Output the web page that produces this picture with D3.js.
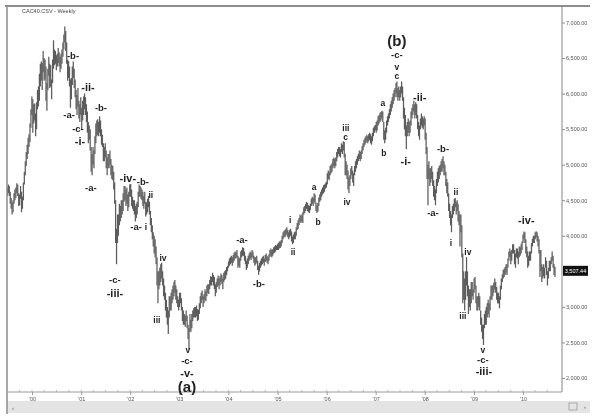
<!DOCTYPE html>
<html><head><meta charset="utf-8">
<script src="https://cdn.jsdelivr.net/npm/d3@7"></script>
<style>
html,body{margin:0;padding:0;background:#fff;}
svg{display:block;font-family:"Liberation Sans",Arial,sans-serif;filter:grayscale(100%);}
</style></head>
<body><svg id="c" width="602" height="416"></svg>
<script>
// ---------- DATA: weekly [low, high] bars, CAC 40 ----------
const yearStarts = ["1999-07-02","2000-01-07","2001-01-05","2002-01-04","2003-01-03","2004-01-02","2005-01-07","2006-01-06","2007-01-05","2008-01-04","2009-01-02","2010-01-01"];
const w1999 = [[4560,4680],[4600,4720],[4560,4700],[4450,4620],[4380,4530],[4300,4470],[4330,4500],[4450,4600],[4500,4650],[4530,4680],[4600,4740],[4560,4720],[4420,4600],[4430,4580],[4520,4700],[4330,4620],[4380,4550],[4500,4750],[4720,4900],[4850,5050],[4980,5180],[5080,5280],[5150,5380],[5250,5430],[5320,5580],[5520,5780],[5700,5960]];
const w2000 = [[5450,5920],[5580,5850],[5620,5860],[5400,5720],[5500,5880],[5780,6050],[5820,6100],[5900,6280],[6100,6420],[6180,6450],[6050,6430],[6300,6600],[6180,6500],[6200,6480],[5900,6380],[5760,6150],[6050,6350],[6250,6520],[6080,6420],[6100,6400],[5920,6200],[6150,6480],[6350,6750],[6400,6620],[6420,6600],[6330,6540],[6380,6560],[6430,6640],[6380,6580],[6300,6520],[6350,6560],[6420,6620],[6520,6720],[6620,6830],[6720,6945],[6600,6880],[6420,6720],[6180,6480],[6220,6460],[6100,6380],[5800,6200],[5920,6220],[6120,6380],[6220,6450],[6080,6350],[5950,6200],[5780,6050],[5700,5980],[5820,6080],[5650,5900],[5600,5850],[5700,5950]];
const w2001 = [[5500,5800],[5620,5900],[5700,5960],[5780,6000],[5700,5950],[5600,5850],[5450,5750],[5300,5600],[5350,5550],[5200,5500],[4900,5250],[4850,5150],[5000,5250],[4950,5200],[5150,5400],[5300,5580],[5400,5620],[5420,5640],[5400,5600],[5450,5680],[5400,5620],[5280,5500],[5250,5420],[5050,5300],[5050,5250],[5100,5300],[4950,5200],[4850,5100],[4950,5150],[4950,5150],[5000,5200],[4850,5080],[4800,5000],[4780,4980],[4650,4900],[4450,4750],[3900,4500],[3600,4100],[3900,4300],[4000,4300],[4150,4450],[4200,4420],[4250,4500],[4300,4500],[4350,4600],[4480,4700],[4500,4700],[4420,4650],[4450,4680],[4350,4580],[4400,4620],[4550,4720]];
const w2002 = [[4550,4730],[4420,4650],[4380,4550],[4350,4500],[4300,4500],[4200,4420],[4250,4450],[4300,4480],[4400,4620],[4550,4720],[4550,4700],[4520,4680],[4500,4650],[4420,4620],[4380,4560],[4450,4620],[4270,4480],[4300,4470],[4330,4520],[4400,4560],[4300,4480],[4150,4350],[4050,4250],[3950,4150],[3850,4050],[3750,4000],[3700,3950],[3600,3850],[3300,3700],[3050,3500],[3250,3500],[3300,3550],[3350,3600],[3400,3620],[3300,3500],[3150,3400],[3100,3300],[2950,3200],[2850,3100],[2750,3000],[2620,2950],[2850,3150],[2950,3150],[2950,3200],[3050,3250],[3100,3300],[3150,3350],[3200,3380],[3100,3300],[3050,3250],[3000,3150],[2950,3100]];
const w2003 = [[3000,3200],[3050,3200],[2950,3120],[2800,3000],[2750,2950],[2750,2900],[2720,2880],[2800,2950],[2700,2880],[2550,2750],[2400,2700],[2650,2900],[2650,2820],[2700,2900],[2800,2950],[2850,2980],[2850,3000],[2850,3000],[2870,3020],[2800,2970],[2820,2960],[2900,3050],[2980,3150],[3050,3200],[3100,3230],[3000,3150],[3050,3180],[3100,3250],[3080,3220],[3150,3300],[3200,3320],[3180,3320],[3250,3380],[3300,3430],[3300,3420],[3350,3480],[3300,3450],[3250,3420],[3150,3320],[3200,3350],[3280,3400],[3300,3440],[3250,3400],[3300,3430],[3350,3470],[3320,3450],[3250,3400],[3350,3480],[3380,3500],[3400,3520],[3450,3560],[3500,3580]];
const w2004 = [[3550,3640],[3580,3680],[3600,3700],[3620,3720],[3580,3700],[3620,3730],[3650,3760],[3680,3780],[3680,3770],[3700,3800],[3550,3720],[3580,3700],[3550,3680],[3650,3780],[3700,3800],[3720,3840],[3720,3830],[3650,3780],[3600,3720],[3520,3650],[3550,3680],[3600,3720],[3650,3750],[3680,3780],[3660,3760],[3700,3800],[3680,3780],[3620,3720],[3580,3700],[3600,3700],[3620,3720],[3520,3650],[3450,3580],[3500,3620],[3550,3650],[3580,3680],[3600,3700],[3620,3720],[3580,3680],[3630,3730],[3650,3750],[3620,3720],[3600,3700],[3650,3740],[3700,3800],[3720,3820],[3700,3800],[3720,3810],[3750,3840],[3760,3850],[3780,3870],[3800,3860],[3800,3880]];
const w2005 = [[3800,3900],[3820,3920],[3830,3920],[3850,3940],[3900,4000],[3950,4050],[3980,4070],[3980,4080],[4000,4100],[4020,4120],[3980,4080],[3950,4050],[3980,4080],[4000,4100],[3920,4060],[3880,3990],[3900,4020],[3950,4050],[3950,4060],[4000,4120],[4080,4180],[4100,4220],[4150,4250],[4200,4300],[4180,4280],[4200,4300],[4180,4330],[4300,4400],[4320,4420],[4350,4450],[4380,4480],[4350,4460],[4330,4430],[4320,4420],[4360,4450],[4420,4520],[4450,4550],[4420,4530],[4480,4600],[4450,4580],[4350,4470],[4320,4430],[4340,4460],[4420,4540],[4480,4580],[4500,4620],[4550,4650],[4580,4680],[4600,4710],[4620,4720],[4660,4740],[4680,4760]];
const w2006 = [[4720,4880],[4800,4920],[4780,4900],[4850,4980],[4880,5000],[4900,5020],[4950,5080],[4980,5100],[4950,5080],[4980,5100],[5050,5180],[5100,5220],[5150,5250],[5120,5250],[5100,5220],[5180,5300],[5150,5280],[5200,5330],[5100,5320],[4850,5150],[4850,5050],[4800,5000],[4650,4920],[4600,4820],[4700,4850],[4800,4950],[4850,4980],[4750,4920],[4700,4880],[4850,4980],[4900,5050],[4950,5080],[5000,5120],[5050,5150],[5080,5200],[5050,5180],[5080,5200],[5150,5260],[5200,5300],[5250,5350],[5280,5380],[5300,5400],[5330,5420],[5300,5400],[5330,5430],[5350,5450],[5300,5430],[5280,5400],[5330,5450],[5400,5520],[5450,5540],[5480,5560]];
const w2007 = [[5450,5600],[5480,5620],[5550,5680],[5580,5700],[5600,5730],[5620,5740],[5650,5760],[5600,5750],[5350,5600],[5300,5480],[5350,5520],[5450,5620],[5550,5680],[5600,5720],[5650,5780],[5700,5850],[5750,5900],[5800,5950],[5850,6000],[5900,6050],[5950,6080],[6000,6150],[5950,6170],[5900,6080],[5950,6100],[5900,6050],[5950,6100],[6000,6170],[5900,6100],[5650,5950],[5500,5800],[5400,5700],[5220,5550],[5400,5600],[5450,5650],[5400,5600],[5450,5620],[5550,5750],[5650,5800],[5700,5850],[5750,5900],[5650,5850],[5700,5880],[5650,5850],[5500,5700],[5400,5600],[5350,5550],[5500,5650],[5550,5720],[5520,5680],[5500,5650],[5550,5680]];
const w2008 = [[5350,5650],[5150,5450],[4800,5250],[4430,5000],[4800,5050],[4700,4950],[4750,4950],[4800,4980],[4700,4900],[4550,4780],[4500,4700],[4430,4650],[4600,4800],[4700,4900],[4750,4950],[4800,4980],[4850,5000],[4900,5050],[4900,5080],[4950,5120],[4850,5050],[4850,5000],[4700,4900],[4600,4800],[4550,4750],[4350,4600],[4250,4450],[4150,4350],[4050,4300],[4250,4420],[4300,4450],[4350,4520],[4400,4530],[4300,4480],[4350,4500],[4200,4450],[4150,4350],[3850,4300],[4050,4300],[3700,4150],[3050,3750],[3100,3500],[2950,3400],[3100,3500],[3300,3700],[3150,3500],[2900,3300],[3000,3250],[2950,3250],[3050,3350],[3150,3350],[3100,3250]];
const w2009 = [[3200,3400],[3250,3420],[3050,3300],[2950,3150],[2950,3150],[3000,3200],[2950,3150],[2750,2950],[2650,2850],[2550,2750],[2465,2750],[2700,2900],[2750,2950],[2750,3000],[2850,3050],[2900,3100],[2850,3050],[2950,3150],[3100,3300],[3100,3300],[3150,3300],[3200,3340],[3250,3400],[3200,3350],[3100,3280],[3050,3200],[3050,3200],[2980,3150],[3100,3300],[3250,3400],[3350,3460],[3400,3520],[3420,3540],[3450,3560],[3480,3600],[3450,3600],[3550,3680],[3650,3780],[3700,3820],[3600,3780],[3650,3800],[3750,3880],[3750,3880],[3600,3800],[3550,3750],[3700,3820],[3680,3820],[3600,3780],[3700,3850],[3720,3840],[3750,3880],[3800,3920]];
const w2010 = [[3900,4020],[3950,4060],[3900,4050],[3750,3950],[3700,3850],[3550,3780],[3580,3720],[3650,3780],[3650,3780],[3750,3900],[3850,3960],[3900,4000],[3900,4000],[3950,4050],[3980,4065],[3920,4050],[3850,4000],[3750,3950],[3420,3800],[3500,3800],[3350,3600],[3400,3560],[3430,3600],[3400,3550],[3550,3700],[3450,3650],[3300,3500],[3400,3550],[3500,3650],[3500,3650],[3600,3700],[3650,3780],[3550,3720],[3450,3600],[3420,3560]];
const yearly = [w1999,w2000,w2001,w2002,w2003,w2004,w2005,w2006,w2007,w2008,w2009,w2010];
const lastClose = 3507.44;
const priceTicks = [2000,2500,3000,4000,4500,5000,5500,6000,6500,7000];
const yearTicks = [2000,2001,2002,2003,2004,2005,2006,2007,2008,2009,2010];
// wave labels: text, date, price
const waveText  = ["-b-","-ii-","-b-","-a-","-c-","-i-","-a-","-c-","-iii-","-iv-","-b-","ii","-a-","i","iv","iii","v","-c-","-v-","(a)","-a-","-b-","i","ii","a","b","iii","c","iv","a","b","c","v","-c-","(b)","-ii-","-i-","-b-","-a-","ii","i","iv","iii","v","-c-","-iii-","-iv-"];
const waveDate  = ["2000-11-01","2001-02-21","2001-05-28","2000-10-03","2000-12-08","2000-12-23","2001-03-14","2001-09-09","2001-09-09","2001-12-14","2002-04-05","2002-06-03","2002-02-14","2002-04-28","2002-09-02","2002-07-18","2003-03-06","2003-02-27","2003-02-27","2003-02-27","2004-04-11","2004-08-15","2005-04-04","2005-04-26","2005-09-29","2005-10-29","2006-05-24","2006-05-22","2006-06-01","2007-02-24","2007-03-03","2007-06-08","2007-06-08","2007-06-08","2007-06-08","2007-11-25","2007-08-13","2008-05-16","2008-03-02","2008-08-20","2008-07-14","2008-11-17","2008-10-11","2009-03-08","2009-03-08","2009-03-16","2010-01-26"];
const wavePrice = [6540,6090,5800,5710,5516,5333,4686,3392,3196,4813,4757,4574,4124,4124,3688,2816,2394,2253,2070,1887,3941,3336,4222,3772,4686,4194,5516,5390,4475,5868,5165,6248,6374,6543,6740,5952,5052,5221,4321,4616,3899,3772,2872,2394,2267,2098,4222];

// ---------- DRAW ----------
const parse = d3.timeParse("%Y-%m-%d");
const bars = [];
yearly.forEach((arr,i)=>{
  const s = parse(yearStarts[i]);
  arr.forEach((p,j)=>bars.push({d:d3.timeDay.offset(s,7*j), lo:p[0], hi:p[1]}));
});

const svg = d3.select("#c");
const x = d3.scaleTime().domain([new Date(2000,0,1), new Date(2010,0,1)]).range([32,523]);
const y = d3.scaleLinear().domain([2000,7000]).range([378,22.5]);
const plotL = 7, plotR = 562, plotT = 7, plotB = 392;

// scrollbar band
svg.append("rect").attr("x",7).attr("y",401).attr("width",583).attr("height",12).attr("fill","#e4e4e4");
svg.append("text").attr("x",12).attr("y",408).attr("font-size",6).attr("fill","#555").attr("dominant-baseline","central").text("\u2039");
svg.append("rect").attr("x",569).attr("y",403).attr("width",8).attr("height",7).attr("fill","none").attr("stroke","#999").attr("stroke-width",0.8);
svg.append("text").attr("x",584).attr("y",407).attr("font-size",6).attr("fill","#555").attr("dominant-baseline","central").text("\u203a");

// frame
svg.append("line").attr("x1",5).attr("x2",590).attr("y1",6).attr("y2",6).attr("stroke","#8c8c8c").attr("stroke-width",2);
svg.append("line").attr("x1",7).attr("x2",7).attr("y1",6).attr("y2",414).attr("stroke","#8c8c8c").attr("stroke-width",1.5);
svg.append("text").attr("x",22).attr("y",11).attr("font-size",5.5).attr("fill","#444").attr("dominant-baseline","central").text("CAC40.CSV - Weekly");

// bars
svg.append("clipPath").attr("id","pc").append("rect").attr("x",plotL+0.5).attr("y",plotT).attr("width",plotR-plotL-1).attr("height",plotB-plotT);
svg.append("g").attr("clip-path","url(#pc)").selectAll("line").data(bars).join("line")
  .attr("x1",d=>x(d.d)).attr("x2",d=>x(d.d))
  .attr("y1",d=>y(d.hi)).attr("y2",d=>y(d.lo))
  .attr("stroke","#5c5c5c").attr("stroke-width",1.25);

// right axis
const ra = svg.append("g").attr("transform",`translate(${plotR},0)`)
  .call(d3.axisRight(y).tickValues(priceTicks).tickFormat(d3.format(",.2f")).tickSize(3));
ra.select(".domain").remove();
ra.selectAll("line").attr("stroke","#888");
ra.selectAll("text").attr("font-size",5.5).attr("fill","#555").attr("x",4).attr("font-family","Liberation Sans, Arial");
svg.append("line").attr("x1",plotR).attr("x2",plotR).attr("y1",7).attr("y2",plotB).attr("stroke","#9a9a9a").attr("stroke-width",1.2);
// last value box
svg.append("rect").attr("x",plotR+1).attr("y",y(lastClose)-5).attr("width",25).attr("height",10).attr("fill","#111");
svg.append("text").attr("x",plotR+13.5).attr("y",y(lastClose)).attr("text-anchor","middle").attr("dominant-baseline","central")
  .attr("font-size",5.5).attr("fill","#fff").text(d3.format(",.2f")(lastClose));

// bottom axis
svg.append("line").attr("x1",plotL).attr("x2",plotR).attr("y1",plotB).attr("y2",plotB).attr("stroke","#9a9a9a").attr("stroke-width",1);
const minor = d3.timeMonth.every(3).range(new Date(1999,6,1), new Date(2010,9,1));
svg.append("g").selectAll("line").data(minor).join("line")
  .attr("x1",d=>x(d)).attr("x2",d=>x(d)).attr("y1",plotB-2).attr("y2",plotB).attr("stroke","#aaa").attr("stroke-width",0.8);
const ba = svg.append("g").attr("transform",`translate(0,${plotB})`)
  .call(d3.axisBottom(x).tickValues(yearTicks.map(v=>new Date(v,0,1))).tickFormat(d3.timeFormat("'%y")).tickSize(3).tickPadding(2));
ba.select(".domain").remove();
ba.selectAll("line").attr("stroke","#999");
ba.selectAll("text").attr("font-size",5.5).attr("fill","#555").attr("font-family","Liberation Sans, Arial");

// wave labels
function fs(t){
  if(t.startsWith("(")) return 15;
  if(t.startsWith("-")) return /[iv]/.test(t) ? 11 : 9.5;
  return 8.5;
}
svg.append("g").selectAll("text").data(waveText.map((t,i)=>({t, d:parse(waveDate[i]), v:wavePrice[i]}))).join("text")
  .attr("x",d=>x(d.d)).attr("y",d=>y(d.v))
  .attr("text-anchor","middle").attr("dominant-baseline","central")
  .attr("font-weight","bold").attr("fill","#222")
  .attr("font-size",d=>fs(d.t)).text(d=>d.t);
</script></body></html>
